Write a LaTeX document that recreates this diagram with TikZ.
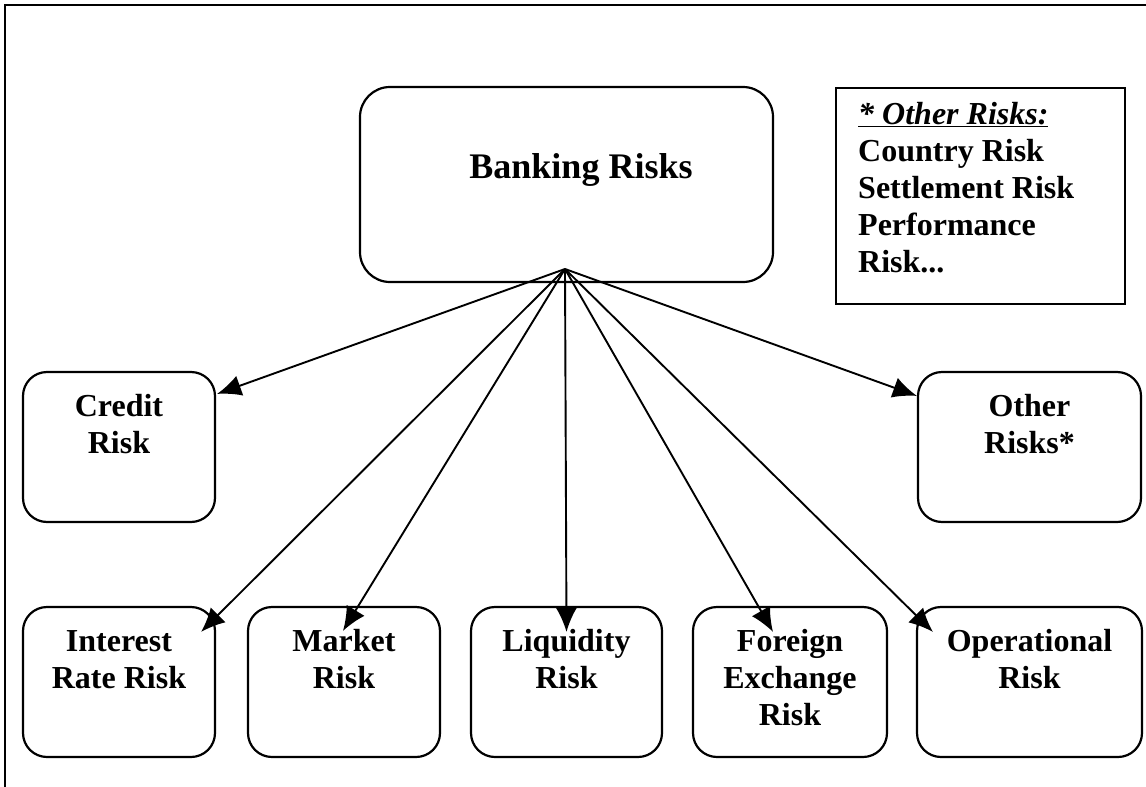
\documentclass[tikz,border=0pt]{standalone}
\usepackage{fontspec}
\setmainfont{Liberation Serif}
\usetikzlibrary{arrows.meta,calc}
\begin{document}
\begin{tikzpicture}[x=1pt,y=-1pt,
  riskbox/.style={draw,line width=2.2pt,rounded corners=24pt,minimum height=150pt,inner sep=0pt},
  risktext/.style={anchor=north,inner sep=0pt,align=center,font=\fontsize{32}{37}\selectfont\bfseries},
  link/.style={line width=1.9pt,-{Latex[length=24pt,width=21pt]}}]
\useasboundingbox (0,0) rectangle (1146,787);
% outer frame (top and left edges)
\draw[line width=2.8pt] (5,787) -- (5,5) -- (1146,5);

% root box
\node[draw,line width=2.2pt,rounded corners=30pt,minimum width=413pt,minimum height=195pt,inner sep=0pt] (bank) at (566.5,184.5) {};
\node[anchor=base,inner sep=0pt,font=\fontsize{36}{40}\selectfont\bfseries] (bankT) at (581,178) {Banking Risks};

% footnote box
\node[draw,line width=2.5pt,minimum width=289pt,minimum height=216pt,inner sep=0pt] (note) at (980.5,196) {};
\node[anchor=north west,inner sep=0pt,align=left,font=\fontsize{32}{37}\selectfont\bfseries] (noteT) at (858,98)
  {\strut\underline{\textit{* Other Risks:}}\\Country Risk\\Settlement Risk\\Performance\\Risk...};

% middle row
\node[riskbox,minimum width=192pt] (credit) at (119,447) {};
\node[risktext] (creditT) at ($(credit.north)+(0,19)$) {\strut Credit\\Risk};
\node[riskbox,minimum width=223pt] (other) at (1029.5,447) {};
\node[risktext] (otherT) at ($(other.north)+(0,19)$) {\strut Other\\Risks*};

% bottom row
\node[riskbox,minimum width=192pt] (ir) at (119,682) {};
\node[risktext] (irT) at ($(ir.north)+(0,19)$) {\strut Interest\\Rate Risk};
\node[riskbox,minimum width=192pt] (mkt) at (344,682) {};
\node[risktext] (mktT) at ($(mkt.north)+(0,19)$) {\strut Market\\Risk};
\node[riskbox,minimum width=191pt] (liq) at (566.5,682) {};
\node[risktext] (liqT) at ($(liq.north)+(0,19)$) {\strut Liquidity\\Risk};
\node[riskbox,minimum width=194pt] (fx) at (790,682) {};
\node[risktext] (fxT) at ($(fx.north)+(0,19)$) {\strut Foreign\\Exchange\\Risk};
\node[riskbox,minimum width=225pt] (op) at (1029.5,682) {};
\node[risktext] (opT) at ($(op.north)+(0,19)$) {\strut Operational\\Risk};

% connectors fanning out from one point in the root box
\coordinate (hub) at (565,269);
\draw[link] (hub) -- ($(credit.north east)+(1,23)$);
\draw[link] (hub) -- ($(ir.north east)+(-15,26)$);
\draw[link] (hub) -- ($(mkt.north)+(-1,25)$);
\draw[link] (hub) -- ($(liq.north)+(0,26)$);
\draw[link] (hub) -- ($(fx.north)+(-17,26)$);
\draw[link] (hub) -- ($(op.north west)+(17,26)$);
\draw[link] (hub) -- ($(other.north west)+(0,25)$);
\end{tikzpicture}
\end{document}
